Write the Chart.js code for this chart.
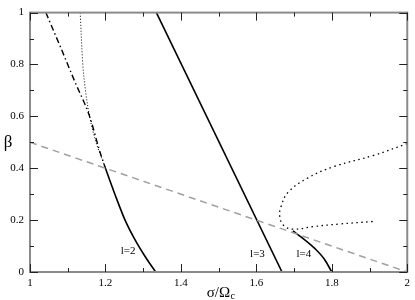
<!DOCTYPE html>
<html>
<head>
<meta charset="utf-8">
<script src="https://cdn.jsdelivr.net/npm/chart.js@4"></script>
<style>
html,body{margin:0;padding:0;background:#fff;}
#wrap{width:415px;height:300px;}
</style>
</head>
<body>
<div id="wrap"><canvas id="c" width="415" height="300"></canvas></div>
<script>
// ---- data ----
const xTicks = [1, 1.2, 1.4, 1.6, 1.8, 2];
const yTicks = [0, 0.2, 0.4, 0.6, 0.8, 1];

const dashedSigma = [1, 2];
const dashedBeta  = [0.5, 0];

const l2Sigma = [1.2, 1.225, 1.252, 1.28, 1.306, 1.333];
const l2Beta  = [0.4, 0.3, 0.2, 0.12, 0.058, 0];

const dashDotSigma = [1.042, 1.08, 1.12, 1.158, 1.184, 1.2];
const dashDotBeta  = [1.0, 0.87, 0.73, 0.6, 0.47, 0.4];

const dotLeftSigma = [1.133, 1.14, 1.147, 1.158, 1.175, 1.2];
const dotLeftBeta  = [1.0, 0.8, 0.7, 0.6, 0.5, 0.4];

const l3Sigma = [1.335, 1.668];
const l3Beta  = [1.0, 0];

const dotRightSigma = [2.0, 1.912, 1.807, 1.737, 1.684, 1.665, 1.662, 1.672, 1.697, 1.75, 1.82, 1.912];
const dotRightBeta  = [0.495, 0.45, 0.407, 0.363, 0.307, 0.25, 0.215, 0.18, 0.165, 0.175, 0.185, 0.195];

const l4Sigma = [1.697, 1.725, 1.754, 1.78, 1.8];
const l4Beta  = [0.158, 0.128, 0.092, 0.05, 0];

const curveLabels = ['l=2', 'l=3', 'l=4'];
const labelSigma  = [1.26, 1.603, 1.726];
const labelBeta   = [0.08, 0.07, 0.07];

function pts(xs, ys){ return xs.map((x,i)=>({x:x, y:ys[i]})); }

const SERIF = "'Liberation Serif', 'DejaVu Serif', serif";

const framePlugin = {
  id: 'frame',
  afterDatasetsDraw(chart){
    const ctx = chart.ctx, a = chart.chartArea;
    const xs = chart.scales.x, ys = chart.scales.y;
    ctx.save();
    ctx.fillStyle = '#000';
    ctx.font = '11px ' + SERIF;
    ctx.textAlign = 'center';
    ctx.textBaseline = 'middle';
    curveLabels.forEach((t,i)=>{
      ctx.fillText(t, xs.getPixelForValue(labelSigma[i]), ys.getPixelForValue(labelBeta[i]));
    });
    ctx.strokeStyle = '#8a8a8a';
    ctx.lineWidth = 2;
    ctx.strokeRect(a.left, a.top, a.right - a.left, a.bottom - a.top);
    ctx.strokeStyle = '#222';
    ctx.lineWidth = 1;
    ctx.beginPath();
    for (let i = 0; i <= 10; i++) {
      const v = 1 + i * 0.1;
      const px = Math.round(xs.getPixelForValue(v)) + 0.5;
      const len = (i % 2 === 0) ? 8 : 4;
      ctx.moveTo(px, a.bottom); ctx.lineTo(px, a.bottom - len);
      ctx.moveTo(px, a.top); ctx.lineTo(px, a.top + len);
    }
    for (let i = 0; i <= 10; i++) {
      const v = i * 0.1;
      const py = Math.round(ys.getPixelForValue(v)) + 0.5;
      const len = (i % 2 === 0) ? 8 : 4;
      ctx.moveTo(a.left, py); ctx.lineTo(a.left + len, py);
      ctx.moveTo(a.right, py); ctx.lineTo(a.right - len, py);
    }
    ctx.stroke();
    ctx.fillStyle = '#000';
    ctx.textBaseline = 'alphabetic';
    ctx.textAlign = 'left';
    ctx.font = '15px ' + SERIF;
    const main = 'σ/Ω';
    const wMain = ctx.measureText(main).width;
    ctx.font = '10px ' + SERIF;
    const wSub = ctx.measureText('c').width;
    const cx = (a.left + a.right) / 2 + 2;
    const x0 = cx - (wMain + wSub) / 2;
    ctx.font = '15px ' + SERIF;
    ctx.fillText(main, x0, 297);
    ctx.font = '10px ' + SERIF;
    ctx.fillText('c', x0 + wMain + 0.5, 299);
    ctx.font = '17px ' + SERIF;
    ctx.textAlign = 'center';
    ctx.textBaseline = 'middle';
    ctx.fillText('β', 8, ys.getPixelForValue(0.5));
    ctx.restore();
  }
};

new Chart(document.getElementById('c'), {
  type: 'scatter',
  data: {
    datasets: [
      {data: pts(dashedSigma, dashedBeta), borderColor: '#a0a0a0', borderWidth: 1.5, borderDash: [7,5]},
      {data: pts(l2Sigma, l2Beta), borderColor: '#000', borderWidth: 1.6, cubicInterpolationMode: 'monotone'},
      {data: pts(dashDotSigma, dashDotBeta), borderColor: '#000', borderWidth: 1.4, borderDash: [6,3,1.5,3], cubicInterpolationMode: 'monotone'},
      {data: pts(dotLeftSigma, dotLeftBeta), borderColor: '#000', borderWidth: 1, borderDash: [1,2], tension: 0.35},
      {data: pts(l3Sigma, l3Beta), borderColor: '#000', borderWidth: 1.6},
      {data: pts(dotRightSigma, dotRightBeta), borderColor: '#000', borderWidth: 1.3, borderDash: [1.5,3.5], tension: 0.4},
      {data: pts(l4Sigma, l4Beta), borderColor: '#000', borderWidth: 1.6, cubicInterpolationMode: 'monotone'}
    ].map(d => Object.assign({showLine: true, pointRadius: 0, pointHoverRadius: 0, fill: false}, d))
  },
  options: {
    responsive: false,
    animation: false,
    events: [],
    layout: {padding: {left: 0, right: 5, top: 5, bottom: 0}},
    plugins: {legend: {display: false}, tooltip: {enabled: false}},
    scales: {
      x: {
        type: 'linear', min: 1, max: 2,
        grid: {display: false, drawTicks: false},
        border: {display: false},
        afterBuildTicks(s){ s.ticks = xTicks.map(v => ({value: v})); },
        afterFit(s){ s.height = 28; },
        ticks: {padding: 5, color: '#000', font: {family: SERIF, size: 11}, maxRotation: 0,
                callback: v => String(v)}
      },
      y: {
        type: 'linear', min: 0, max: 1,
        grid: {display: false, drawTicks: false},
        border: {display: false},
        afterBuildTicks(s){ s.ticks = yTicks.map(v => ({value: v})); },
        afterFit(s){ s.width = 30; },
        ticks: {padding: 6, color: '#000', font: {family: SERIF, size: 11},
                callback: v => String(v)}
      }
    }
  },
  plugins: [framePlugin]
});
</script>
</body>
</html>
